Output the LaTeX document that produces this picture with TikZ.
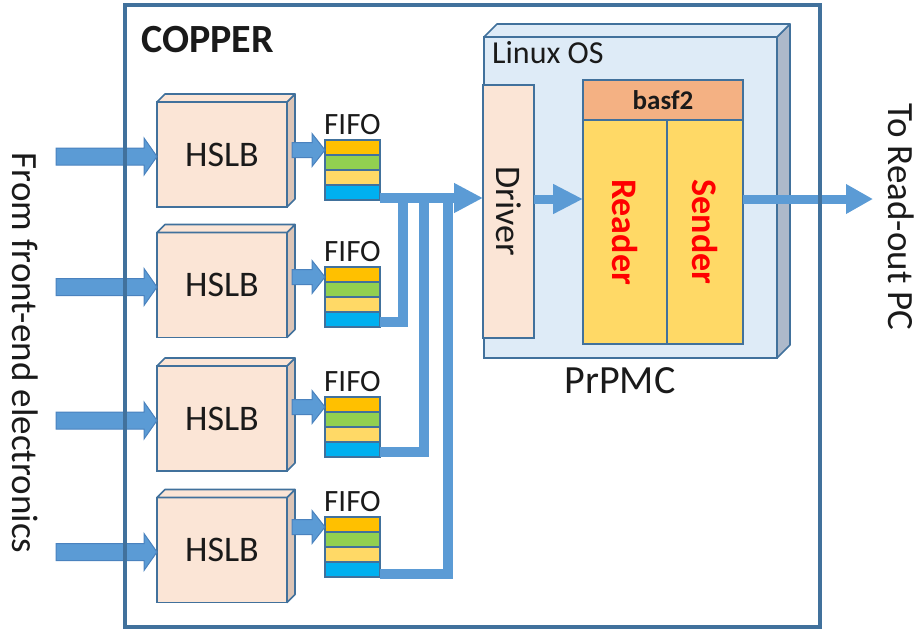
\documentclass[tikz,border=0pt]{standalone}
\usepackage{fontspec}
\setmainfont{Carlito}
\usetikzlibrary{calc,arrows.meta}
\definecolor{stroke}{HTML}{41719C}
\definecolor{arrowc}{HTML}{5B9BD5}
\definecolor{arrowd}{HTML}{4A82BE}
\definecolor{hslbc}{HTML}{FBE5D6}
\definecolor{hslbside}{HTML}{DCC5B7}
\definecolor{osc}{HTML}{DEEBF7}
\definecolor{osside}{HTML}{ADB9CA}
\definecolor{basfc}{HTML}{F4B183}
\definecolor{readc}{HTML}{FFD966}
\definecolor{fOr}{HTML}{FFC000}
\definecolor{fGr}{HTML}{92D050}
\definecolor{fYe}{HTML}{FFD966}
\definecolor{fBl}{HTML}{00B0F0}
\definecolor{txtc}{HTML}{1A1A1A}
\newcommand\fsz[1]{\fontsize{#1}{#1}\selectfont}
\newcommand\boxfaces[4]{%
  \filldraw[draw=stroke, line width=1.6, line join=round, fill=#3] (#1.north east) -- ++(#2,-#2) -- ($(#1.south east)+(#2,-#2)$) -- (#1.south east) -- cycle;
  \filldraw[draw=stroke, line width=1.6, line join=round, fill=#4] (#1.north west) -- ++(#2,-#2) -- ($(#1.north east)+(#2,-#2)$) -- (#1.north east) -- cycle;}
\newcommand\blkarrow[5]{%
  \filldraw[blockarr] ($(#1)+(0,-#3)$) -- ($(#2)+(-#5,-#3)$) -- ($(#2)+(-#5,-#4)$) -- (#2) -- ($(#2)+(-#5,#4)$) -- ($(#2)+(-#5,#3)$) -- ($(#1)+(0,#3)$) -- cycle;}
\tikzset{
  box/.style={draw=stroke, line width=1.6, inner sep=0, outer sep=0},
  hslb/.style={box, fill=hslbc, minimum width=130, minimum height=105, font=\fsz{36}, text=txtc},
  fifo/.style={inner sep=0, outer sep=0, minimum width=55, minimum height=60},
  fifolbl/.style={anchor=base, inner sep=0, font=\fsz{31}, text=txtc},
  blockarr/.style={fill=arrowc, draw=arrowd, line width=1, line join=miter},
  bus/.style={draw=arrowc, line width=10},
  bus9/.style={draw=arrowc, line width=9},
  vtext/.style={rotate=-90, inner sep=0, text=txtc},
  redtext/.style={rotate=-90, inner sep=0, text=red, font=\bfseries\fsz{36}},
}
\begin{document}
\begin{tikzpicture}[x=1pt,y=-1pt]
\useasboundingbox (0,0) rectangle (922,633);

% Linux OS / PrPMC
\node[box, fill=osc, minimum width=293, minimum height=321] (os) at (630.5,197.5) {};
\boxfaces{os}{13}{osside}{osc}
\node[anchor=base west, inner sep=0, font=\fsz{32}, text=txtc] (ost) at (492,63) {Linux OS};
\node[box, fill=hslbc, minimum width=51, minimum height=253] (drv) at (508.5,211.5) {};
\node[vtext, font=\fsz{36}] (drvt) at (drv.center) {Driver};
\node[box, fill=basfc, minimum width=160, minimum height=40, font=\bfseries\fsz{27}, text=txtc] (bf) at (663,100) {basf2};
\node[box, fill=readc, minimum width=84, minimum height=224] (rd) at (625,232) {};
\node[box, fill=readc, minimum width=76, minimum height=224] (sd) at (705,232) {};
\node[redtext] (rdt) at (rd.center) {Reader};
\node[redtext] (sdt) at (sd.center) {Sender};
\node[anchor=base, inner sep=0, font=\fsz{40}, text=txtc] (pr) at (620,393) {PrPMC};

% HSLB boards and FIFOs
\foreach \n/\y/\fy in {1/154.5/170, 2/285/297, 3/418.5/427, 4/550/547} {
  \node[hslb] (h\n) at (222,\y) {HSLB};
  \boxfaces{h\n}{8}{hslbside}{hslbc}
  \node[fifo] (f\n) at (352.5,\fy) {};
  \foreach \c [count=\i from 0] in {fOr,fGr,fYe,fBl}
    \filldraw[draw=stroke, line width=1.4, fill=\c] ($(f\n.north west)+(0,15*\i)$) rectangle ++(55,15);
  \node[fifolbl] (fl\n) at ($(f\n.north)+(0,-6)$) {FIFO};
  \coordinate (fa\n) at ($(f\n.north west)+(0,10)$);
  \coordinate (ha\n) at ($(fa\n -| h\n.east)+(5,0)$);
  \blkarrow{ha\n}{fa\n}{7.5}{16.5}{13}
  \coordinate (in\n) at ($(h\n.west)+(-101,2)$);
  \coordinate (it\n) at ($(h\n.west)+(0,2)$);
  \blkarrow{in\n}{it\n}{8.5}{18.5}{13}
}

% merging bus
\coordinate (bus) at (0,198);
\coordinate (v2) at (403,198);
\coordinate (v3) at (424,198);
\coordinate (v4) at (448,198);
\draw[bus] ($(f2.south east)+(0,-5)$) -| (v2);
\draw[bus] ($(f3.south east)+(0,-5)$) -| (v3);
\draw[bus] ($(f4.south east)+(0,-3)$) -| (v4);
\draw[bus, -{Triangle[length=29pt,width=28pt]}] (f1.east |- bus) -- (drv.west |- bus);

% internal and output arrows
\coordinate (lvl) at (0,199);
\coordinate (outp) at (873,199);
\draw[bus9, -{Triangle[length=30pt,width=28pt]}] (drv.east |- lvl) -- (rd.west |- lvl);
\draw[bus9, -{Triangle[length=27pt,width=28pt]}] (sd.east |- lvl) -- (outp);

% COPPER border and labels
\node[draw=stroke, line width=3.5, minimum width=695, minimum height=622, inner sep=0] (copper) at (472.5,316) {};
\node[anchor=base west, inner sep=0, font=\bfseries\fsz{40}, text=txtc] (cp) at (141,52) {COPPER};
\node[vtext, font=\fsz{37}] (lblin) at (25,353) {From front-end electronics};
\node[vtext, font=\fsz{37}] (lblout) at (901,217) {To Read-out PC};
\end{tikzpicture}
\end{document}
